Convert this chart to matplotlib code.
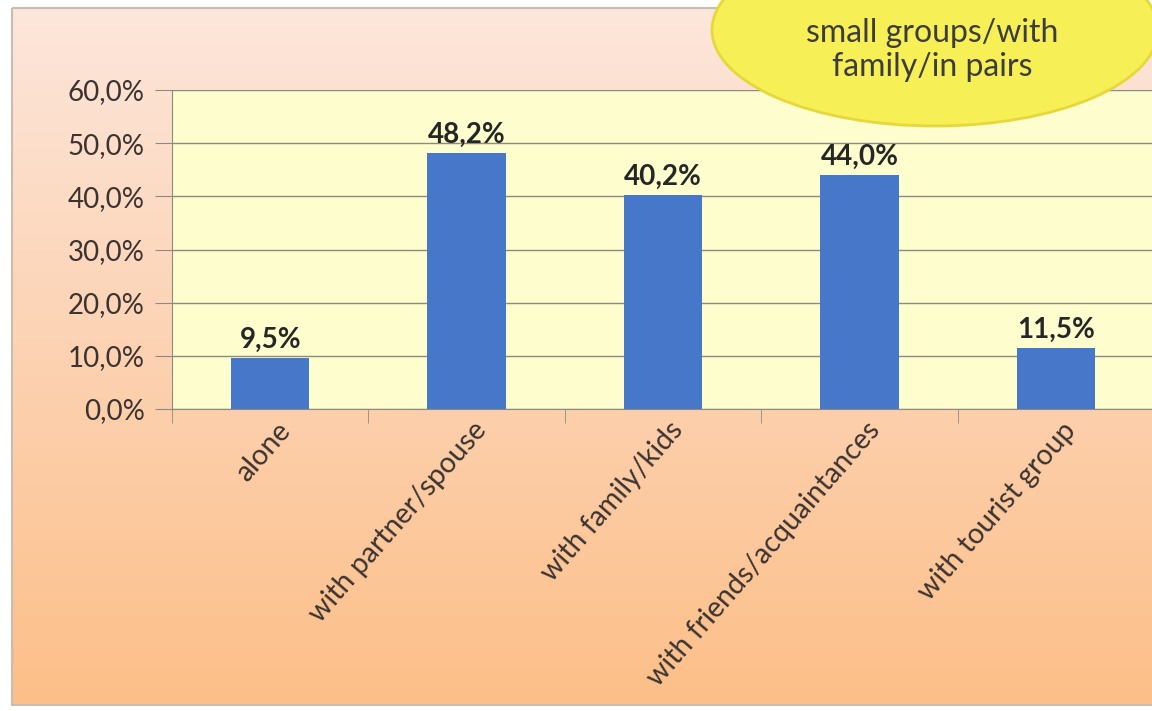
import numpy as np
import matplotlib.pyplot as plt
from matplotlib.patches import Ellipse, Rectangle
from matplotlib.colors import LinearSegmentedColormap

plt.rcParams['font.family'] = ['Lato', 'DejaVu Sans']

categories = ['alone', 'with partner/spouse', 'with family/kids',
              'with friends/acquaintances', 'with tourist group']
shares = [9.5, 48.2, 40.2, 44.0, 11.5]
y_ticks = [0, 10, 20, 30, 40, 50, 60]
bubble_text = 'small groups/with\nfamily/in pairs'

W, H = 1152, 711
fig = plt.figure(figsize=(W / 100, H / 100), dpi=100)

# chart background: white margin, framed peach gradient
bg = fig.add_axes([0, 0, 1, 1], zorder=0)
bg.set_xlim(0, W)
bg.set_ylim(H, 0)
bg.axis('off')
grad = LinearSegmentedColormap.from_list('peach', ['#fde6db', '#fcd2b2', '#fdbf88'])
bg.imshow(np.linspace(0, 1, 256).reshape(-1, 1), cmap=grad, aspect='auto',
          extent=[12, W + 5, 705, 8], zorder=0)
bg.add_patch(Rectangle((12, 8), W, 697, fill=False, ec='#c9bdb2', lw=1.5, zorder=1))

ax = fig.add_axes([172 / W, 1 - 409 / H, (1154 - 172) / W, (409 - 90) / H], zorder=2)
ax.set_facecolor('#fdfdcd')
x = np.arange(len(categories))
ax.bar(x, shares, width=0.4, color='#4677c8', zorder=3)
for xi, v in zip(x, shares):
    ax.text(xi, v + 1.0, f'{v:.1f}%'.replace('.', ','), ha='center', va='bottom',
            fontsize=20, fontweight='bold', color='#262626', zorder=4)

ax.set_xlim(-0.5, len(categories) - 0.5)
ax.set_ylim(0, 60)
ax.set_yticks(y_ticks)
ax.set_yticklabels([f'{t:.1f}%'.replace('.', ',') for t in y_ticks],
                   fontsize=20, color='#3a3330')
ax.yaxis.grid(True, color='#8f8a80', lw=1)
ax.set_axisbelow(True)
ax.tick_params(axis='y', length=12, color='#8f8a80', pad=7.5)

ax.set_xticks(x + 0.03)
ax.set_xticklabels(categories, rotation=49, ha='right', va='top',
                   rotation_mode='anchor', fontsize=20.5, color='#3a3330')
ax.tick_params(axis='x', length=0, pad=6)
ax.set_xticks(np.arange(-0.5, len(categories)), minor=True)
ax.tick_params(axis='x', which='minor', length=10, color='#8f8a80')

for s in ['top', 'right']:
    ax.spines[s].set_visible(False)
for s in ['left', 'bottom']:
    ax.spines[s].set_color('#8f8a80')

# callout bubble in the top right corner
top = fig.add_axes([0, 0, 1, 1], zorder=5)
top.set_xlim(0, W)
top.set_ylim(H, 0)
top.axis('off')
top.patch.set_alpha(0)
top.add_patch(Ellipse((935, 30), 446, 192, fc='#f6ef55', ec='#e6d83a', lw=2))
top.text(932, 50, bubble_text, ha='center', va='center', fontsize=23,
         color='#3d3d3d', linespacing=1.2)

fig.savefig('out.png', dpi=100)
